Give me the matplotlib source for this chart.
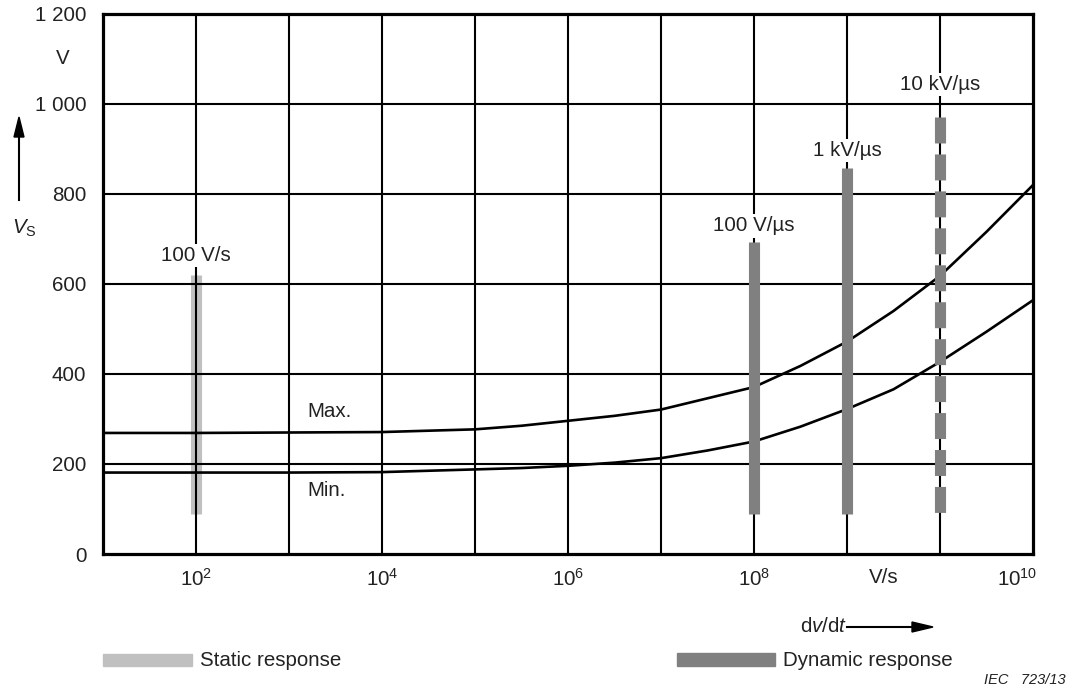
import numpy as np
import matplotlib
matplotlib.use("Agg")
import matplotlib.pyplot as plt
from matplotlib.patches import Rectangle
from matplotlib.lines import Line2D

plt.rcParams['font.family'] = ['Liberation Sans', 'DejaVu Sans']
plt.rcParams['mathtext.fontset'] = 'custom'
plt.rcParams['mathtext.rm'] = 'Liberation Sans'
plt.rcParams['mathtext.it'] = 'Liberation Sans:italic'
plt.rcParams['mathtext.bf'] = 'Liberation Sans:bold'

# curve data (dv/dt in V/s, voltage in V), read at half decades
rate = [1e1, 1e2, 1e3, 1e4, 1e5, 10**5.5, 1e6, 10**6.5, 1e7, 10**7.5, 1e8,
        10**8.5, 1e9, 10**9.5, 1e10, 10**10.5, 1e11]
v_max = [269, 269, 270, 271, 277, 285, 296, 307, 321, 346, 371,
         418, 472, 540, 618, 716, 820]
v_min = [181, 181, 181, 182, 188, 191, 196, 203, 213, 230, 250,
         283, 322, 366, 427, 494, 564]

# test rate bars: position, label, top value
bar_rates = [1e2, 1e8, 1e9, 1e10]
bar_labels = ["100 V/s", "100 V/\u00b5s", "1 kV/\u00b5s", "10 kV/\u00b5s"]
bar_tops = [620, 693, 858, 971]
bar_label_y = [664, 729, 896, 1044]
bar_bottom = 90

yticks = [0, 200, 400, 600, 800, 1000, 1200]
ytick_labels = ["0", "200", "400", "600", "800", "1 000", "1 200"]
xtick_pos = [1e2, 1e4, 1e6, 1e8, 10**9.39, 10**10.83]
xtick_labels = [r"$10^{2}$", r"$10^{4}$", r"$10^{6}$", r"$10^{8}$", "V/s", r"$10^{10}$"]

txt = "#222222"
light = "#c0c0c0"
dark = "#808080"
fs = 14.8

fig = plt.figure(figsize=(10.73, 6.93), dpi=100)
ax = fig.add_axes([103/1073, 1 - 554/693, 930/1073, 540/693])
ax.set_xscale("log")
ax.set_xlim(1e1, 1e11)
ax.set_ylim(0, 1200)

# grid
for e in range(2, 11):
    ax.axvline(10.0**e, color="black", lw=1.5, zorder=1)
for yv in yticks[1:-1]:
    ax.axhline(yv, color="black", lw=1.5, zorder=1)

for s in ax.spines.values():
    s.set_linewidth(2.3)
    s.set_zorder(5)

ax.minorticks_off()
ax.set_xticks(xtick_pos)
ax.set_xticklabels(xtick_labels)
ax.set_yticks(yticks)
ax.set_yticklabels(ytick_labels)
ax.tick_params(axis="both", length=0, labelsize=fs, labelcolor=txt)
ax.tick_params(axis="x", pad=10)
ax.tick_params(axis="y", pad=12)

# bars
ax.plot([bar_rates[0]] * 2, [bar_bottom, bar_tops[0]], color=light, lw=8,
        solid_capstyle="butt", zorder=0.5)
ax.plot([bar_rates[1]] * 2, [bar_bottom, bar_tops[1]], color=dark, lw=8,
        solid_capstyle="butt", zorder=3)
ax.plot([bar_rates[2]] * 2, [bar_bottom, bar_tops[2]], color=dark, lw=8,
        solid_capstyle="butt", zorder=3)
ax.plot([bar_rates[3]] * 2, [bar_tops[3], bar_bottom], color=dark, lw=8,
        dashes=(18.7 / 8, 7.9 / 8), dash_capstyle="butt", zorder=3)

for xr, lab, ly in zip(bar_rates, bar_labels, bar_label_y):
    ax.text(xr, ly, lab, ha="center", va="center", fontsize=fs, color=txt,
            bbox=dict(facecolor="white", edgecolor="none", pad=1.5), zorder=4)

# curves
ax.plot(rate, v_max, color="black", lw=1.9, zorder=2)
ax.plot(rate, v_min, color="black", lw=1.9, zorder=2)
ax.text(10**3.2, 316, "Max.", ha="left", va="center", fontsize=fs, color=txt)
ax.text(10**3.2, 140, "Min.", ha="left", va="center", fontsize=fs, color=txt)

# y-axis unit and quantity
ax.text(-0.043, 1100, "V", transform=ax.get_yaxis_transform(), ha="center",
        va="center", fontsize=fs, color=txt)
fig.add_artist(Line2D([19/1073, 19/1073], [1 - 200/693, 1 - 135/693],
                      color="black", lw=1.5))
fig.patches.append(plt.Polygon([[14/1073, 1 - 137/693], [24/1073, 1 - 137/693],
                                [19/1073, 1 - 117/693]], closed=True,
                               color="black", transform=fig.transFigure))
fig.text(24/1073, 1 - 228/693, r"$V_{\mathrm{S}}$", ha="center", va="center",
         fontsize=fs, color=txt)

# dv/dt arrow
fig.text(847/1073, 1 - 627/693, r"d$v$/d$t$", ha="right", va="center",
         fontsize=fs, color=txt)
fig.add_artist(Line2D([847/1073, 915/1073], [1 - 627/693, 1 - 627/693],
                      color="black", lw=1.5))
fig.patches.append(plt.Polygon([[912/1073, 1 - 622/693], [912/1073, 1 - 632/693],
                                [933/1073, 1 - 627/693]], closed=True,
                               color="black", transform=fig.transFigure))

# legend
fig.patches.append(Rectangle((103/1073, 1 - 666/693), 89/1073, 12/693,
                             color=light, transform=fig.transFigure))
fig.text(200/1073, 1 - 660/693, "Static response", ha="left", va="center",
         fontsize=fs, color=txt)
fig.patches.append(Rectangle((677/1073, 1 - 666/693), 98/1073, 13/693,
                             color=dark, transform=fig.transFigure))
fig.text(783/1073, 1 - 660/693, "Dynamic response", ha="left", va="center",
         fontsize=fs, color=txt)

fig.text(1066/1073, 1 - 680/693, "IEC   723/13", ha="right", va="center",
         fontsize=10.5, style="italic", color=txt)

fig.savefig("out.png", dpi=100)
